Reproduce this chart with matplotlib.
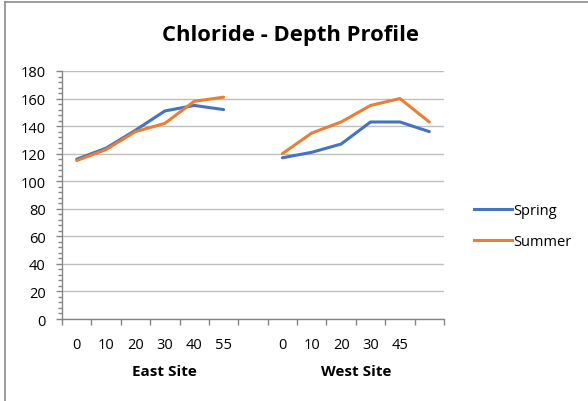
#!/usr/bin/env python3
"""
Chloride depth profile - spring vs summer, two sites on a grouped category axis
"""

import matplotlib
matplotlib.use('Agg')
import matplotlib.pyplot as plt
from matplotlib.lines import Line2D
from matplotlib.ticker import MultipleLocator, FixedLocator
import numpy as np

plt.rcParams['font.family'] = ['Open Sans', 'DejaVu Sans']

# Data
sites = ['East Site', 'West Site']
east_depths = ['0', '10', '20', '30', '40', '55', '']   # last slot is an empty gap
west_depths = ['0', '10', '20', '30', '45', '']
east_spring = [116, 124, 137, 151, 155, 152]
east_summer = [115, 123, 136, 142, 158, 161]
west_spring = [117, 121, 127, 143, 143, 136]
west_summer = [120, 135, 143, 155, 160, 143]

blue = '#4472C4'
orange = '#ED7D31'
axis_col = '#868686'
grid_col = '#bfbfbf'

labels = east_depths + west_depths
east_slots = np.arange(len(east_depths))
west_slots = np.arange(len(west_depths)) + len(east_depths)
x_east = east_slots[:len(east_spring)]
x_west = west_slots[:len(west_spring)]

fig = plt.figure(figsize=(5.88, 4.02), dpi=100)
ax = fig.add_axes([62 / 588, 1 - 320 / 402, (444 - 62) / 588, (320 - 72) / 402])

ax.plot(x_east, east_spring, color=blue, lw=2.2, solid_capstyle='round')
ax.plot(x_east, east_summer, color=orange, lw=2.2, solid_capstyle='round')
ax.plot(x_west, west_spring, color=blue, lw=2.2, solid_capstyle='round')
ax.plot(x_west, west_summer, color=orange, lw=2.2, solid_capstyle='round')

ax.set_xlim(-0.5, len(labels) - 0.5)
ax.set_ylim(0, 180)

# y axis
ax.yaxis.set_major_locator(MultipleLocator(20))
ax.yaxis.set_minor_locator(MultipleLocator(4))
ax.grid(axis='y', which='major', color=grid_col, lw=1)
ax.set_axisbelow(True)
ax.tick_params(axis='y', which='major', length=4.3, width=1, color=axis_col,
               labelsize=10.5, pad=7.5, labelcolor='#000000')
ax.tick_params(axis='y', which='minor', length=3, width=1, color=axis_col)

# x axis: labels at slot centres, tick marks at slot boundaries
ax.set_xticks(np.arange(len(labels)))
ax.set_xticklabels(labels)
ax.xaxis.set_minor_locator(FixedLocator(np.arange(len(labels) + 1) - 0.5))
ax.tick_params(axis='x', which='major', length=0, labelsize=10.5, pad=13)
ax.tick_params(axis='x', which='minor', length=4, width=1, color=axis_col)

for s in ['top', 'right']:
    ax.spines[s].set_visible(False)
for s in ['left', 'bottom']:
    ax.spines[s].set_color(axis_col)
    ax.spines[s].set_linewidth(1)

# site group labels
ax.text(np.mean(east_slots), -0.21, sites[0], transform=ax.get_xaxis_transform(),
        ha='center', va='center', fontsize=11, fontweight='bold')
ax.text(np.mean(west_slots), -0.21, sites[1], transform=ax.get_xaxis_transform(),
        ha='center', va='center', fontsize=11, fontweight='bold')

# Title
fig.text(290 / 588, 1 - 35 / 402, 'Chloride - Depth Profile', ha='center', va='center',
         fontsize=15.8, fontweight='bold')

# Legend
handles = [Line2D([], [], color=blue, lw=2.2), Line2D([], [], color=orange, lw=2.2)]
fig.legend(handles, ['Spring', 'Summer'], loc='center left',
           bbox_to_anchor=(461 / 588, 1 - 227 / 402), frameon=False,
           fontsize=10.5, handlelength=2.6, handletextpad=0.1, labelspacing=1.1)

# chart border (left and top edges visible)
fig.add_artist(Line2D([5 / 588, 5 / 588], [0, 1 - 3 / 402], transform=fig.transFigure,
                      color='#8c8c8c', lw=1.2))
fig.add_artist(Line2D([5 / 588, 1], [1 - 3 / 402, 1 - 3 / 402], transform=fig.transFigure,
                      color='#8c8c8c', lw=1.2))

plt.savefig('out.png', dpi=100, facecolor='white')
